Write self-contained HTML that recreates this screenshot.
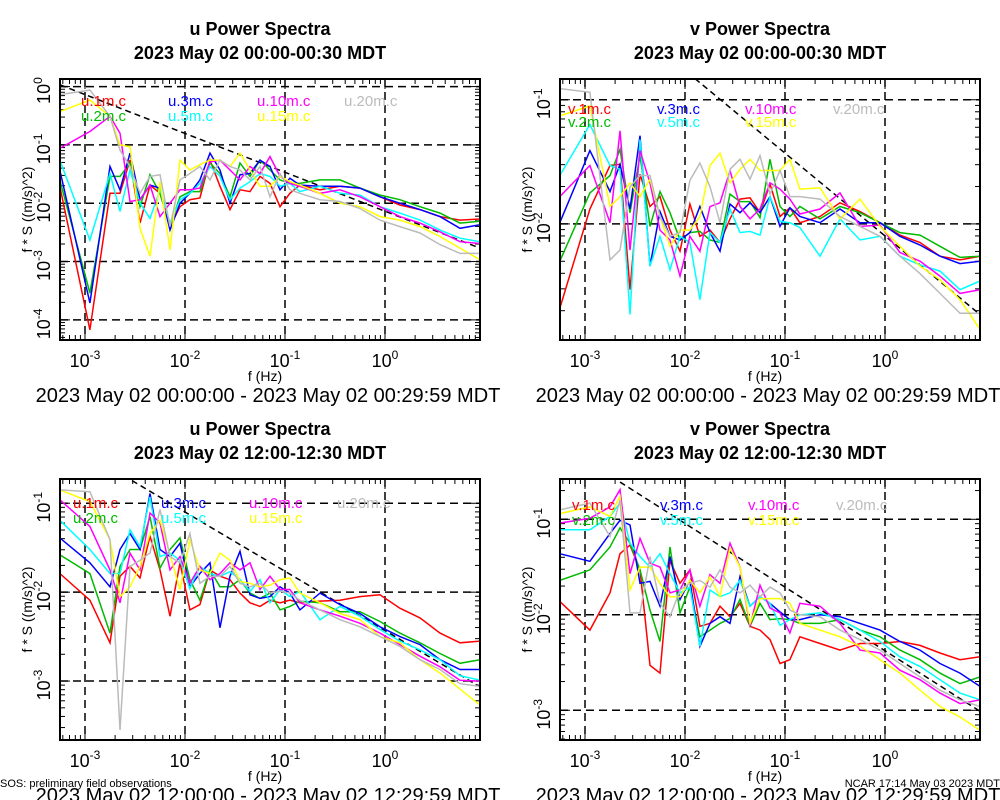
<!DOCTYPE html>
<html><head><meta charset="utf-8"><style>
html,body{margin:0;padding:0;background:#fff;}
svg{display:block;font-family:"Liberation Sans",sans-serif;}
</style></head><body>
<svg id="chart" width="1000" height="800" viewBox="0 0 1000 800" xmlns="http://www.w3.org/2000/svg">
<rect x="0" y="0" width="1000" height="800" fill="#fff"/>
<text x="0" y="787" font-size="11">SOS: preliminary field observations</text>
<text x="1000" y="787" font-size="11" text-anchor="end">NCAR 17:14 May 03 2023 MDT</text>
</svg>
<script>
// shared frequency axis (Hz)
const freqs = [0.00056,0.00112,0.00178,0.00224,0.00282,0.00355,0.00447,0.00562,0.00708,0.00891,0.0112,0.0141,0.0178,0.0224,0.0282,0.0355,0.0447,0.0562,0.0708,0.0891,0.112,0.141,0.224,0.355,0.562,0.891,1.41,2.24,3.55,5.62,8.91];
const seriesColors = ["#ff0000","#00bb00","#0000ff","#00ffff","#ff00ff","#ffff00","#bbbbbb"];
const heightsLabel = ["1m","2m","3m","5m","10m","15m","20m"];
const xTickExp = [-3,-2,-1,0];

// Panel 1: u 00:00-00:30 (log10 of f*S)
const p1_1m = [-1.71,-4.17,-1.83,-1.83,-1.26,-2.34,-1.69,-1.83,-2.4,-2.06,-1.94,-1.91,-1.26,-1.71,-2.11,-1.77,-1.8,-1.54,-1.66,-2.06,-1.83,-1.69,-1.77,-1.71,-1.74,-1.89,-2.03,-2.11,-2.23,-2.29,-2.27];
const p1_2m = [-1.6,-3.54,-1.54,-1.54,-1.31,-2.06,-1.51,-1.83,-2.4,-1.89,-1.8,-1.8,-1.31,-1.49,-1.89,-1.31,-1.54,-1.26,-1.43,-1.6,-1.66,-1.66,-1.6,-1.6,-1.74,-1.86,-1.94,-2.06,-2.17,-2.34,-2.31];
const p1_3m = [-1.43,-3.71,-1.37,-1.77,-1.14,-1.94,-1.69,-1.74,-2.46,-2.0,-1.83,-1.6,-1.14,-1.43,-2.0,-1.51,-1.49,-1.26,-1.37,-1.77,-1.57,-1.69,-1.71,-1.71,-1.74,-1.89,-2.0,-2.11,-2.23,-2.43,-2.37];
const p1_5m = [-1.26,-2.63,-1.49,-2.14,-1.43,-2.0,-2.26,-1.77,-2.34,-1.94,-1.83,-1.66,-1.37,-1.54,-1.94,-1.74,-1.63,-1.49,-1.54,-1.71,-1.66,-1.8,-1.71,-1.83,-1.86,-2.06,-2.17,-2.29,-2.46,-2.6,-2.66];
const p1_10m = [-1.06,-0.77,-0.51,-0.8,-1.97,-1.94,-1.69,-2.23,-2.0,-1.77,-1.77,-1.74,-1.29,-1.26,-1.43,-1.6,-1.37,-1.49,-1.2,-1.54,-1.66,-1.71,-1.83,-1.77,-1.89,-2.06,-2.23,-2.34,-2.49,-2.66,-2.69];
const p1_15m = [-0.43,-0.23,-0.51,-1.0,-1.03,-2.43,-2.91,-1.63,-2.8,-1.26,-1.43,-1.34,-1.26,-1.26,-1.37,-1.14,-1.43,-1.71,-1.71,-1.54,-1.63,-1.69,-1.83,-2.0,-2.06,-2.23,-2.29,-2.4,-2.57,-2.77,-2.97];
const p1_20m = [-0.14,-0.06,-0.51,-1.09,-1.37,-1.83,-1.54,-1.51,-2.4,-1.6,-1.49,-1.37,-1.6,-1.26,-1.37,-1.43,-1.6,-1.37,-1.89,-1.49,-1.77,-1.83,-1.94,-1.97,-2.09,-2.29,-2.4,-2.51,-2.71,-2.86,-2.86];

// Panel 2: v 00:00-00:30
const p2_1m = [-2.68,-1.88,-1.53,-1.52,-2.53,-1.6,-1.86,-1.78,-2.05,-2.22,-1.84,-2.1,-2.05,-2.15,-1.96,-1.8,-1.79,-1.91,-1.68,-1.94,-1.87,-1.99,-1.94,-1.83,-1.9,-1.99,-2.09,-2.15,-2.26,-2.29,-2.26];
const p2_2m = [-2.3,-1.75,-1.61,-1.4,-1.91,-1.45,-2.02,-1.74,-1.91,-2.13,-2.07,-2.06,-2.13,-2.15,-1.76,-1.82,-1.82,-1.95,-1.48,-1.86,-1.94,-1.86,-1.96,-1.86,-1.91,-1.99,-2.07,-2.09,-2.18,-2.27,-2.26];
const p2_3m = [-1.99,-1.41,-1.74,-1.52,-1.88,-1.29,-2.34,-1.9,-2.1,-2.13,-2.07,-1.86,-2.07,-2.22,-1.84,-1.91,-1.83,-1.91,-1.78,-2.02,-1.87,-1.94,-1.99,-1.88,-1.99,-1.99,-2.1,-2.17,-2.26,-2.32,-2.3];
const p2_5m = [-1.61,-1.2,-1.53,-1.56,-2.73,-1.32,-2.34,-2.1,-2.37,-2.1,-2.15,-2.61,-2.07,-2.15,-1.88,-2.07,-2.06,-2.09,-1.78,-1.98,-1.99,-2.03,-2.26,-1.96,-2.13,-2.1,-2.26,-2.33,-2.38,-2.53,-2.46];
const p2_10m = [-1.78,-1.53,-1.99,-1.25,-2.21,-1.41,-1.67,-2.05,-2.13,-2.42,-2.1,-2.22,-1.86,-1.83,-1.57,-1.86,-1.96,-1.88,-1.67,-1.72,-1.8,-1.92,-1.88,-1.75,-2.02,-2.01,-2.23,-2.3,-2.42,-2.56,-2.53];
const p2_15m = [-1.13,-1.05,-1.86,-1.78,-1.67,-1.78,-1.64,-1.94,-2.18,-2.05,-2.05,-1.94,-1.53,-1.43,-1.67,-1.56,-1.48,-1.57,-1.57,-1.57,-1.48,-1.72,-1.71,-1.96,-1.8,-2.02,-2.18,-2.34,-2.45,-2.61,-2.85];
const p2_20m = [-0.91,-0.94,-2.29,-2.21,-1.7,-1.61,-1.61,-1.94,-2.1,-2.07,-1.65,-1.51,-1.7,-1.99,-1.56,-1.48,-1.64,-1.45,-1.76,-1.57,-1.78,-1.78,-1.8,-1.94,-2.02,-2.1,-2.26,-2.4,-2.56,-2.72,-2.72];

// Panel 3: u 12:00-12:30
const p3_1m = [-1.79,-2.09,-2.57,-1.82,-1.71,-1.84,-1.37,-1.75,-2.27,-1.67,-2.2,-2.14,-1.75,-1.82,-1.86,-2.01,-2.12,-2.16,-2.09,-2.12,-2.09,-2.12,-2.1,-2.09,-2.05,-2.03,-2.18,-2.29,-2.46,-2.57,-2.55];
const p3_2m = [-1.58,-1.79,-2.46,-1.71,-1.52,-1.52,-1.15,-1.73,-1.52,-1.39,-1.86,-2.09,-1.75,-1.94,-1.94,-1.86,-2.01,-2.07,-2.01,-2.2,-2.16,-2.1,-2.12,-2.22,-2.22,-2.33,-2.46,-2.57,-2.69,-2.8,-2.76];
const p3_3m = [-1.39,-1.67,-1.94,-1.52,-1.34,-1.52,-0.89,-1.52,-1.6,-1.45,-1.94,-1.79,-1.67,-2.4,-1.82,-1.54,-2.03,-2.07,-2.05,-1.94,-2.01,-2.2,-2.01,-2.14,-2.24,-2.39,-2.5,-2.59,-2.76,-2.87,-2.87];
const p3_5m = [-1.19,-1.52,-1.79,-1.79,-1.3,-1.49,-0.93,-1.6,-1.56,-1.64,-1.96,-1.71,-1.79,-1.82,-1.77,-1.86,-1.99,-1.86,-2.12,-1.97,-2.05,-1.99,-2.31,-2.16,-2.27,-2.42,-2.55,-2.65,-2.76,-2.94,-2.99];
const p3_10m = [-0.96,-1.26,-1.75,-2.12,-1.56,-1.75,-1.11,-1.22,-1.75,-1.6,-1.9,-1.71,-1.86,-1.79,-1.67,-1.75,-1.67,-1.97,-1.82,-1.97,-1.97,-2.12,-2.2,-2.27,-2.35,-2.46,-2.59,-2.72,-2.84,-2.99,-3.0];
const p3_15m = [-0.85,-0.98,-1.41,-2.05,-1.94,-1.71,-1.34,-1.19,-1.58,-1.97,-1.41,-1.75,-1.79,-1.56,-1.64,-1.88,-1.9,-1.94,-1.92,-1.86,-1.84,-2.01,-2.12,-2.24,-2.31,-2.5,-2.57,-2.76,-2.91,-3.09,-3.27];
const p3_20m = [-0.85,-0.87,-1.41,-3.55,-1.71,-1.64,-1.56,-1.07,-1.6,-1.67,-1.34,-1.9,-1.82,-1.82,-1.71,-1.9,-1.94,-1.9,-2.01,-1.99,-2.01,-2.09,-2.2,-2.31,-2.39,-2.5,-2.61,-2.76,-2.87,-3.03,-3.06];

// Panel 4: v 12:00-12:30
const p4_1m = [-1.86,-2.16,-1.77,-1.36,-1.27,-1.53,-2.53,-2.61,-1.43,-1.67,-1.53,-2.12,-2.09,-1.91,-2.02,-1.88,-2.12,-2.16,-2.26,-2.51,-2.47,-2.23,-2.3,-2.37,-2.3,-2.3,-2.28,-2.32,-2.4,-2.47,-2.44];
const p4_2m = [-1.64,-1.53,-1.29,-1.09,-1.25,-1.53,-1.95,-2.28,-1.29,-1.98,-1.71,-2.23,-2.16,-2.09,-2.04,-1.84,-2.12,-1.88,-2.05,-2.04,-2.05,-2.09,-2.09,-2.05,-2.16,-2.23,-2.37,-2.47,-2.61,-2.72,-2.65];
const p4_3m = [-1.36,-1.44,-1.15,-1.01,-1.06,-1.67,-1.65,-1.91,-1.39,-1.84,-1.64,-2.33,-2.09,-2.02,-2.09,-1.6,-1.91,-1.81,-1.88,-1.97,-2.05,-2.05,-2.0,-2.02,-2.09,-2.16,-2.28,-2.37,-2.51,-2.61,-2.75];
const p4_5m = [-1.11,-1.11,-0.97,-0.83,-1.25,-1.39,-1.5,-1.36,-1.57,-1.77,-1.71,-2.33,-1.74,-1.81,-1.77,-1.64,-1.91,-1.81,-1.88,-2.11,-2.05,-2.0,-1.98,-2.05,-2.16,-2.28,-2.44,-2.54,-2.68,-2.82,-2.89];
const p4_10m = [-1.04,-0.99,-0.87,-0.69,-1.57,-1.2,-1.46,-1.5,-1.77,-1.74,-1.53,-1.91,-1.58,-1.67,-1.25,-1.5,-2.12,-1.69,-1.93,-1.98,-2.19,-1.88,-1.91,-2.09,-2.37,-2.4,-2.58,-2.68,-2.82,-2.93,-2.89];
const p4_15m = [-0.94,-0.87,-0.97,-0.76,-1.74,-1.5,-1.5,-1.67,-1.81,-1.81,-1.64,-1.77,-1.6,-1.81,-1.3,-1.5,-2.09,-1.83,-1.83,-1.83,-1.88,-2.09,-2.16,-2.23,-2.33,-2.47,-2.61,-2.79,-2.96,-3.07,-3.21];
const p4_20m = [-0.9,-0.83,-1.18,-0.8,-1.98,-1.98,-1.39,-1.88,-2.02,-1.74,-1.67,-1.64,-1.71,-1.53,-1.71,-1.77,-1.69,-1.81,-1.71,-1.77,-1.95,-2.0,-2.02,-2.16,-2.26,-2.37,-2.51,-2.65,-2.79,-2.89,-2.96];

// -2/3 reference line anchors: [log10 f, log10 f*S]
const refAnchors = [[-3.25,0.03],[-1.9,-0.83],[-2.53,-0.745],[-2.65,-0.61]];

const panels = [
 {comp:"u", t1:"u Power Spectra", t2:"2023 May 02 00:00-00:30 MDT", range:"2023 May 02 00:00:00 - 2023 May 02 00:29:59 MDT",
  x0:60,x1:480,y0:79,y1:340,yTop:0.13,yBot:-4.345,yTicks:[0,-1,-2,-3,-4], data:[p1_1m,p1_2m,p1_3m,p1_5m,p1_10m,p1_15m,p1_20m], leg:[81,168,257,344], legY:[101,116]},
 {comp:"v", t1:"v Power Spectra", t2:"2023 May 02 00:00-00:30 MDT", range:"2023 May 02 00:00:00 - 2023 May 02 00:29:59 MDT",
  x0:560,x1:980,y0:79,y1:340,yTop:-0.833,yBot:-2.935,yTicks:[-1,-2], data:[p2_1m,p2_2m,p2_3m,p2_5m,p2_10m,p2_15m,p2_20m], leg:[568,657,745,833], legY:[109,122]},
 {comp:"u", t1:"u Power Spectra", t2:"2023 May 02 12:00-12:30 MDT", range:"2023 May 02 12:00:00 - 2023 May 02 12:29:59 MDT",
  x0:60,x1:480,y0:479,y1:740,yTop:-0.727,yBot:-3.663,yTicks:[-1,-2,-3], data:[p3_1m,p3_2m,p3_3m,p3_5m,p3_10m,p3_15m,p3_20m], leg:[73,161,249,337], legY:[503,518]},
 {comp:"v", t1:"v Power Spectra", t2:"2023 May 02 12:00-12:30 MDT", range:"2023 May 02 12:00:00 - 2023 May 02 12:29:59 MDT",
  x0:560,x1:980,y0:479,y1:740,yTop:-0.578,yBot:-3.311,yTicks:[-1,-2,-3], data:[p4_1m,p4_2m,p4_3m,p4_5m,p4_10m,p4_15m,p4_20m], leg:[572,660,748,836], legY:[505,520]}
];

const NS="http://www.w3.org/2000/svg";
const svg=document.getElementById('chart');
function mk(tag,attrs,parent){const e=document.createElementNS(NS,tag);for(const k in attrs)e.setAttribute(k,attrs[k]);(parent||svg).appendChild(e);return e;}
const XL0=-3.25,XL1=0.95;

panels.forEach((p,pi)=>{
  const g=mk('g',{});
  
  
  const xs=lf=>p.x0+(lf-XL0)/(XL1-XL0)*(p.x1-p.x0);
  const ys=lv=>p.y0+(p.yTop-lv)/(p.yTop-p.yBot)*(p.y1-p.y0);
  const cx=(p.x0+p.x1)/2-10;
  let t=mk('text',{x:cx,y:p.y0-44,'font-size':18,'font-weight':'bold','text-anchor':'middle'},g);t.textContent=p.t1;
  
  t=mk('text',{x:cx,y:p.y0-20,'font-size':18,'font-weight':'bold','text-anchor':'middle'},g);t.textContent=p.t2;
  
  const cid='clip'+pi;
  const cp=mk('clipPath',{id:cid},g);mk('rect',{x:p.x0,y:p.y0,width:p.x1-p.x0,height:p.y1-p.y0},cp);
  xTickExp.forEach(e=>{const x=xs(e);const l=mk('line',{x1:x,x2:x,y1:p.y0,y2:p.y1,stroke:'#000','stroke-width':1.5,'stroke-dasharray':'8,5'},g);
    });
  p.yTicks.forEach(e=>{const y=ys(e);const l=mk('line',{x1:p.x0,x2:p.x1,y1:y,y2:y,stroke:'#000','stroke-width':1.5,'stroke-dasharray':'8,5'},g);
    });
  for(let d=-4;d<=1;d++)for(let m=1;m<10;m++){const lf=d+Math.log10(m);if(lf<XL0||lf>XL1)continue;const x=xs(lf);const len=m==1?10:5;
    mk('line',{x1:x,x2:x,y1:p.y1,y2:p.y1-len,stroke:'#000','stroke-width':1},g);mk('line',{x1:x,x2:x,y1:p.y0,y2:p.y0+len,stroke:'#000','stroke-width':1},g);}
  for(let d=-5;d<=1;d++)for(let m=1;m<10;m++){const lv=d+Math.log10(m);if(lv<p.yBot||lv>p.yTop)continue;const y=ys(lv);const len=m==1?10:5;
    mk('line',{x1:p.x0,x2:p.x0+len,y1:y,y2:y,stroke:'#000','stroke-width':1},g);mk('line',{x1:p.x1,x2:p.x1-len,y1:y,y2:y,stroke:'#000','stroke-width':1},g);}
  const a=refAnchors[pi];
  const rl=mk('line',{x1:xs(a[0]),y1:ys(a[1]),x2:xs(XL1),y2:ys(a[1]-(2/3)*(XL1-a[0])),stroke:'#000','stroke-width':1.5,'stroke-dasharray':'6,4','clip-path':'url(#'+cid+')'},g);
  
  p.data.forEach((arr,si)=>{
    const pts=arr.map((v,i)=>xs(Math.log10(freqs[i])).toFixed(1)+','+ys(v).toFixed(1)).join(' ');
    const pl=mk('polyline',{points:pts,fill:'none',stroke:seriesColors[si],'stroke-width':1.5,'clip-path':'url(#'+cid+')'},g);
    
    
  });
  const rows=[0,1,0,1,0,1,0];
  const cols=[0,0,1,1,2,2,3];
  heightsLabel.forEach((h,si)=>{
    const lt=mk('text',{x:p.leg[cols[si]],y:p.legY[rows[si]]+5,'font-size':15,fill:seriesColors[si]},g);
    lt.textContent=p.comp+'.'+h+'.c';
    
  });
  const bx=mk('rect',{x:p.x0,y:p.y0,width:p.x1-p.x0,height:p.y1-p.y0,fill:'none',stroke:'#000','stroke-width':2},g);
  
  xTickExp.forEach(e=>{const x=xs(e);const tx=mk('text',{x:x,y:p.y1+27,'font-size':18,'text-anchor':'middle'},g);
    
    const b=mk('tspan',{},tx);b.textContent='10';const s=mk('tspan',{'font-size':12,dy:-8},tx);s.textContent=String(e);});
  p.yTicks.forEach(e=>{const y=ys(e);const tx=mk('text',{x:0,y:0,'font-size':18,'text-anchor':'middle',transform:'translate('+(p.x0-10)+','+(y+4)+') rotate(-90)'},g);
    
    const b=mk('tspan',{},tx);b.textContent='10';const s=mk('tspan',{'font-size':12,dy:-8},tx);s.textContent=String(e);});
  const yt=mk('text',{x:0,y:0,'font-size':14,'text-anchor':'middle',transform:'translate('+(p.x0-28)+','+((p.y0+p.y1)/2)+') rotate(-90)'},g);
  yt.textContent='f * S ((m/s)^2)';
  const xt=mk('text',{x:(p.x0+p.x1)/2-5,y:p.y1+41,'font-size':14,'text-anchor':'middle'},g);
  xt.textContent='f (Hz)';
  const rt=mk('text',{x:(p.x0+p.x1)/2-2,y:p.y1+62,'font-size':20,'text-anchor':'middle'},g);
  rt.textContent=p.range;
});
</script>
</body></html>
